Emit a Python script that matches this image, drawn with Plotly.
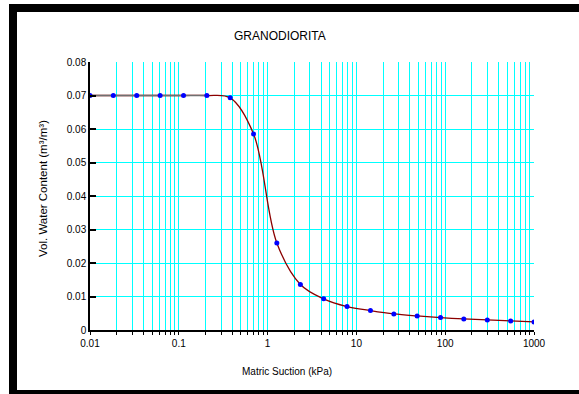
import plotly.graph_objects as go

# Data
suction_kpa = [0.01, 0.0183, 0.0336, 0.0616, 0.113, 0.207, 0.379, 0.695, 1.27, 2.34,
               4.28, 7.85, 14.4, 26.4, 48.3, 88.6, 162, 298, 546, 1000]
water_content = [0.070, 0.070, 0.070, 0.070, 0.070, 0.070, 0.0693, 0.0585, 0.0260, 0.0136,
                 0.0093, 0.0070, 0.0058, 0.0048, 0.0042, 0.0037, 0.0033, 0.0030, 0.0027, 0.0024]
x_major_vals = [0.01, 0.1, 1, 10, 100, 1000]
x_major_text = ["0.01", "0.1", "1", "10", "100", "1000"]
y_tickvals = [0, 0.01, 0.02, 0.03, 0.04, 0.05, 0.06, 0.07, 0.08]
y_ticktext = ["0", "0.01", "0.02", "0.03", "0.04", "0.05", "0.06", "0.07", "0.08"]

# full log grid (1..9 in each decade) with labels only at decades
x_tickvals = []
x_ticktext = []
for d, lab in zip(x_major_vals[:-1], x_major_text[:-1]):
    for k in range(1, 10):
        x_tickvals.append(round(d * k, 6))
        x_ticktext.append(lab if k == 1 else "")
x_tickvals.append(x_major_vals[-1])
x_ticktext.append(x_major_text[-1])

W, H = 579, 394
L, R, T, B = 90, 534, 62, 330
FONT = "Liberation Sans, Arial, sans-serif"
CYAN = "#00FFFF"


def px(x):
    return (x - L) / (R - L)


def py(y):
    return (B - y) / (B - T)


fig = go.Figure()
fig.add_trace(go.Scatter(x=suction_kpa, y=water_content, mode="lines",
                         line=dict(color="#8B0000", width=1.3, shape="spline", smoothing=1),
                         hoverinfo="skip", showlegend=False))
fig.add_trace(go.Scatter(x=suction_kpa[:6], y=water_content[:6], mode="lines",
                         line=dict(color="#707070", width=1.6),
                         hoverinfo="skip", showlegend=False))
fig.add_trace(go.Scatter(x=suction_kpa, y=water_content, mode="markers",
                         marker=dict(color="#0000FF", size=5),
                         showlegend=False))

fig.update_xaxes(type="log", range=[-2, 3], tickmode="array",
                 tickvals=x_tickvals, ticktext=x_ticktext,
                 showgrid=True, gridcolor=CYAN, gridwidth=1,
                 showline=True, linecolor="black", linewidth=1.5,
                 ticks="outside", ticklen=3, tickcolor="black", tickwidth=1.2,
                 tickfont=dict(family=FONT, size=10, color="black"),
                 zeroline=False, mirror=False)
fig.update_yaxes(range=[0, 0.08], tickvals=y_tickvals, ticktext=y_ticktext,
                 showgrid=True, gridcolor=CYAN, gridwidth=1,
                 showline=True, linecolor="black", linewidth=1.5,
                 ticks="inside", ticklen=6, tickcolor="black", tickwidth=1.5,
                 tickfont=dict(family=FONT, size=10, color="black"),
                 zeroline=False, mirror=False)

annotations = [
    dict(text="GRANODIORITA", x=px(280), y=py(36), xref="paper", yref="paper",
         showarrow=False, xanchor="center", yanchor="middle",
         font=dict(family=FONT, size=12, color="black")),
    dict(text="Vol. Water Content (m³/m³)", x=px(43), y=py(189), xref="paper", yref="paper",
         showarrow=False, xanchor="center", yanchor="middle", textangle=-90,
         font=dict(family=FONT, size=11.5, color="black")),
    dict(text="Matric Suction (kPa)", x=px(287), y=py(371), xref="paper", yref="paper",
         showarrow=False, xanchor="center", yanchor="middle",
         font=dict(family=FONT, size=10, color="black")),
]

shapes = [
    dict(type="rect", xref="paper", yref="paper", x0=px(9), x1=px(17), y0=py(394), y1=py(4),
         fillcolor="black", line=dict(width=0), layer="above"),
    dict(type="rect", xref="paper", yref="paper", x0=px(9), x1=px(579), y0=py(12), y1=py(4),
         fillcolor="black", line=dict(width=0), layer="above"),
    dict(type="rect", xref="paper", yref="paper", x0=px(9), x1=px(579), y0=py(394), y1=py(390),
         fillcolor="black", line=dict(width=0), layer="above"),
]

fig.update_layout(width=W, height=H, margin=dict(l=L, r=W - R, t=T, b=H - B),
                  paper_bgcolor="white", plot_bgcolor="white",
                  annotations=annotations, shapes=shapes, showlegend=False)

fig.write_html("out.html")
